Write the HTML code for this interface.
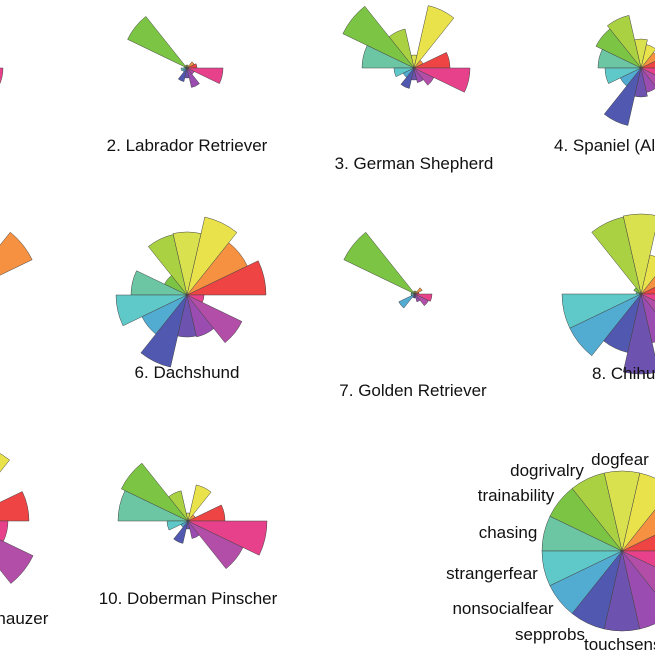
<!DOCTYPE html>
<html><head><meta charset="utf-8">
<style>
html,body{margin:0;padding:0;background:#fff;}
svg{display:block;}
text{font-family:"Liberation Sans",sans-serif;font-size:17px;fill:#111;}
</style></head>
<body>
<svg id="s" width="655" height="655" viewBox="0 0 655 655" xmlns="http://www.w3.org/2000/svg">
<g id="g"></g>
<text x="187" y="151" text-anchor="middle">2. Labrador Retriever</text>
<text x="414" y="169" text-anchor="middle">3. German Shepherd</text>
<text x="554" y="151">4. Spaniel (All</text>
<text x="187" y="378" text-anchor="middle">6. Dachshund</text>
<text x="413" y="396" text-anchor="middle">7. Golden Retriever</text>
<text x="592" y="379">8. Chihuahua</text>
<text x="-39" y="624" text-anchor="middle">9. Miniature Schnauzer</text>
<text x="188" y="604" text-anchor="middle">10. Doberman Pinscher</text>
<text x="620" y="465" text-anchor="middle">dogfear</text>
<text x="547" y="476" text-anchor="middle">dogrivalry</text>
<text x="516" y="501" text-anchor="middle">trainability</text>
<text x="508" y="538" text-anchor="middle">chasing</text>
<text x="492" y="579" text-anchor="middle">strangerfear</text>
<text x="503" y="614" text-anchor="middle">nonsocialfear</text>
<text x="550" y="640" text-anchor="middle">sepprobs</text>
<text x="584" y="650">touchsens</text>
</svg>
<script>
var cols=["#ee4444","#f59140","#e9e24a","#d9e14f","#aad142","#7cc443","#6cc6a4","#5fc9c9","#52acd2","#5058b0","#6e52b0","#9a4cb0","#b24ea8","#e8418c"];
var charts=[
[-39,68,[10,10,10,10,10,20,10,10,10,10,10,10,20,42]],
[187,68,[10,8,3,3,3,66,3,6,5,14,10,20,8,36]],
[414,68,[36,10,64,13,40,79,52,20,12,21,12,15,22,56]],
[641,68,[20,20,24,29,54,50,43,36,23,59,29,25,25,20]],
[-39,294,[30,79,20,20,20,20,20,20,20,20,20,20,20,20]],
[187,295,[79,67,80,63,62,25,56,71,50,74,42,43,61,17]],
[415,294,[4,8,3,3,3,79,4,4,18,4,4,8,15,17]],
[641,294,[40,30,40,80,79,8,5,79,79,60,80,50,40,40]],
[-39,521,[68,20,78,20,20,20,20,20,20,20,20,60,80,47]],
[188,521,[37,8,37,8,31,74,70,21,8,23,8,18,61,79]],
[622,551,[80,80,80,80,80,80,80,80,80,80,80,80,80,80]]
];
var h="",th=2*Math.PI/14;
charts.forEach(function(c){
 var cx=c[0],cy=c[1];
 c[2].forEach(function(r,i){
  var a1=i*th,a2=(i+1)*th;
  var x1=cx+r*Math.cos(a1),y1=cy-r*Math.sin(a1),x2=cx+r*Math.cos(a2),y2=cy-r*Math.sin(a2);
  h+='<path d="M'+cx+' '+cy+' L'+x1.toFixed(2)+' '+y1.toFixed(2)+' A'+r+' '+r+' 0 0 0 '+x2.toFixed(2)+' '+y2.toFixed(2)+' Z" fill="'+cols[i]+'" stroke="#444" stroke-width="0.5"/>';
 });
});
document.getElementById("g").innerHTML=h;
</script>
</body></html>
